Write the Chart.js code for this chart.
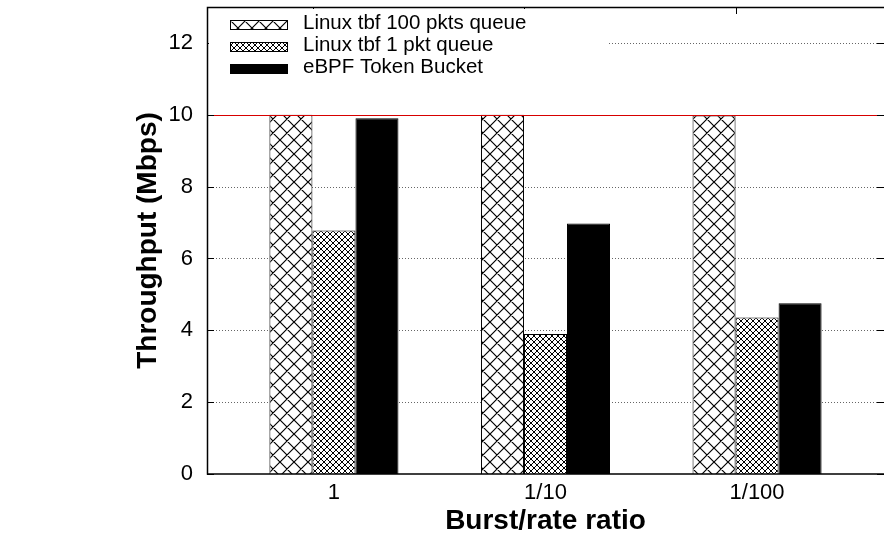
<!DOCTYPE html>
<html>
<head>
<meta charset="utf-8">
<script src="https://cdn.jsdelivr.net/npm/chart.js@4.4.1/dist/chart.umd.min.js"></script>
<style>
  html, body { margin: 0; padding: 0; background: #fff; }
  canvas { display: block; }
</style>
</head>
<body>
<canvas id="chart" width="884" height="539"></canvas>
<script>
const categories = ['1', '1/10', '1/100'];
const seriesNames = ['Linux tbf 100 pkts queue', 'Linux tbf 1 pkt queue', 'eBPF Token Bucket'];
const tbf100 = [10, 10, 9.98];
const tbf1 = [6.78, 3.9, 4.36];
const ebpfBucket = [9.9, 6.97, 4.75];
const yTicks = [0, 2, 4, 6, 8, 10, 12];
const linkRate = 10;

const FONT = '"Liberation Sans", Arial, Helvetica, sans-serif';
const ctx = document.getElementById('chart').getContext('2d');

// diagonal cross hatch tile
function tile(size, width) {
  const c = document.createElement('canvas');
  c.width = size; c.height = size;
  const g = c.getContext('2d');
  g.fillStyle = '#fff';
  g.fillRect(0, 0, size, size);
  g.strokeStyle = '#000';
  g.lineWidth = width;
  g.beginPath();
  for (const d of [-size, 0, size]) {
    g.moveTo(d, 0); g.lineTo(d + size, size);
    g.moveTo(d + size, 0); g.lineTo(d, size);
  }
  g.stroke();
  return ctx.createPattern(c, 'repeat');
}
const coarse = tile(14, 1.2);
const fine = tile(6, 1);

const toPoints = arr => arr.map((v, i) => ({x: i, y: v}));

const frame = {
  id: 'frame',
  beforeDatasetsDraw(chart) {
    const {ctx, chartArea: a, scales: {y}} = chart;
    ctx.save();
    ctx.lineWidth = 1;
    ctx.strokeStyle = '#666';
    ctx.setLineDash([1, 2]);
    yTicks.forEach(v => {
      if (v === 0 || v === linkRate) return;
      const py = Math.round(y.getPixelForValue(v)) + 0.5;
      ctx.beginPath();
      ctx.moveTo(a.left, py); ctx.lineTo(a.right, py);
      ctx.stroke();
    });
    ctx.restore();
  },
  afterDatasetsDraw(chart) {
    const {ctx, chartArea: a, scales: {x, y}} = chart;
    ctx.save();
    ctx.setLineDash([]);
    // link rate line
    ctx.strokeStyle = 'rgb(215,0,0)';
    ctx.lineWidth = 1.2;
    const py = Math.round(y.getPixelForValue(linkRate)) + 0.5;
    ctx.beginPath();
    ctx.moveTo(a.left, py);
    ctx.lineTo(a.right, py);
    ctx.stroke();

    // border
    ctx.strokeStyle = '#000';
    ctx.lineWidth = 1.5;
    ctx.beginPath();
    ctx.moveTo(a.right, a.top + 0.5);
    ctx.lineTo(a.left + 0.5, a.top + 0.5);
    ctx.lineTo(a.left + 0.5, a.bottom);
    ctx.lineTo(a.right, a.bottom);
    ctx.stroke();

    // inward ticks
    ctx.lineWidth = 1;
    ctx.beginPath();
    yTicks.forEach(v => {
      const ty = Math.round(y.getPixelForValue(v)) + 0.5;
      ctx.moveTo(a.left, ty); ctx.lineTo(a.left + 7, ty);
      ctx.moveTo(a.right - 7, ty); ctx.lineTo(a.right, ty);
    });
    categories.forEach((c, i) => {
      const tx = Math.round(x.getPixelForValue(i - 0.1)) + 0.5;
      ctx.moveTo(tx, a.top); ctx.lineTo(tx, a.top + 7);
    });
    ctx.stroke();

    // legend
    ctx.font = '20.5px ' + FONT;
    ctx.textBaseline = 'middle';
    const textX = a.left + 96;
    const maxW = Math.max(...chart.data.datasets.map(d => ctx.measureText(d.label).width));
    ctx.fillStyle = '#fff';
    ctx.fillRect(a.left + 2, a.top + 2, textX + maxW + 80 - a.left, 70);
    chart.data.datasets.forEach((d, i) => {
      const cy = a.top + 16 + i * 22;
      ctx.fillStyle = d.backgroundColor;
      ctx.fillRect(a.left + 23, cy - 3, 58, 10);
      ctx.strokeStyle = '#000';
      ctx.strokeRect(a.left + 23.5, cy - 2.5, 57, 9);
      ctx.fillStyle = '#000';
      ctx.fillText(d.label, textX, cy);
    });
    ctx.restore();
  }
};

new Chart(ctx, {
  type: 'bar',
  data: {
    datasets: [
      {label: seriesNames[0], data: toPoints(tbf100), backgroundColor: coarse},
      {label: seriesNames[1], data: toPoints(tbf1), backgroundColor: fine},
      {label: seriesNames[2], data: toPoints(ebpfBucket), backgroundColor: '#000'}
    ].map(d => Object.assign(d, {borderColor: '#000', borderWidth: 1, categoryPercentage: 0.61, barPercentage: 1}))
  },
  options: {
    responsive: false,
    animation: false,
    layout: {padding: {top: 7, right: 0, bottom: 0, left: 0}},
    plugins: {legend: {display: false}, tooltip: {enabled: false}},
    scales: {
      x: {
        type: 'linear',
        offset: false,
        min: -0.6,
        max: 2.6,
        afterBuildTicks: s => { s.ticks = categories.map((c, i) => ({value: i})); },
        afterFit: s => { s.height = 65; s.paddingLeft = 0; s.paddingRight = 0; },
        grid: {display: false, drawTicks: false, offset: false},
        border: {display: false},
        ticks: {
          callback: v => categories[v],
          color: '#000',
          padding: 6,
          maxRotation: 0,
          font: {family: FONT, size: 22}
        },
        title: {
          display: true,
          text: 'Burst/rate ratio',
          color: '#000',
          padding: {top: 0, bottom: 1},
          font: {family: FONT, size: 28, weight: 'bold'}
        }
      },
      y: {
        min: 0,
        max: 13,
        afterBuildTicks: s => { s.ticks = yTicks.map(v => ({value: v})); },
        afterFit: s => { s.width = 207; s.paddingTop = 0; s.paddingBottom = 0; },
        grid: {display: false, drawTicks: false},
        border: {display: false},
        ticks: {
          color: '#000',
          padding: 14,
          font: {family: FONT, size: 22}
        },
        title: {
          display: true,
          text: 'Throughput (Mbps)',
          color: '#000',
          padding: {top: 131, bottom: 0},
          font: {family: FONT, size: 28, weight: 'bold'}
        }
      }
    }
  },
  plugins: [frame]
});
</script>
</body>
</html>
